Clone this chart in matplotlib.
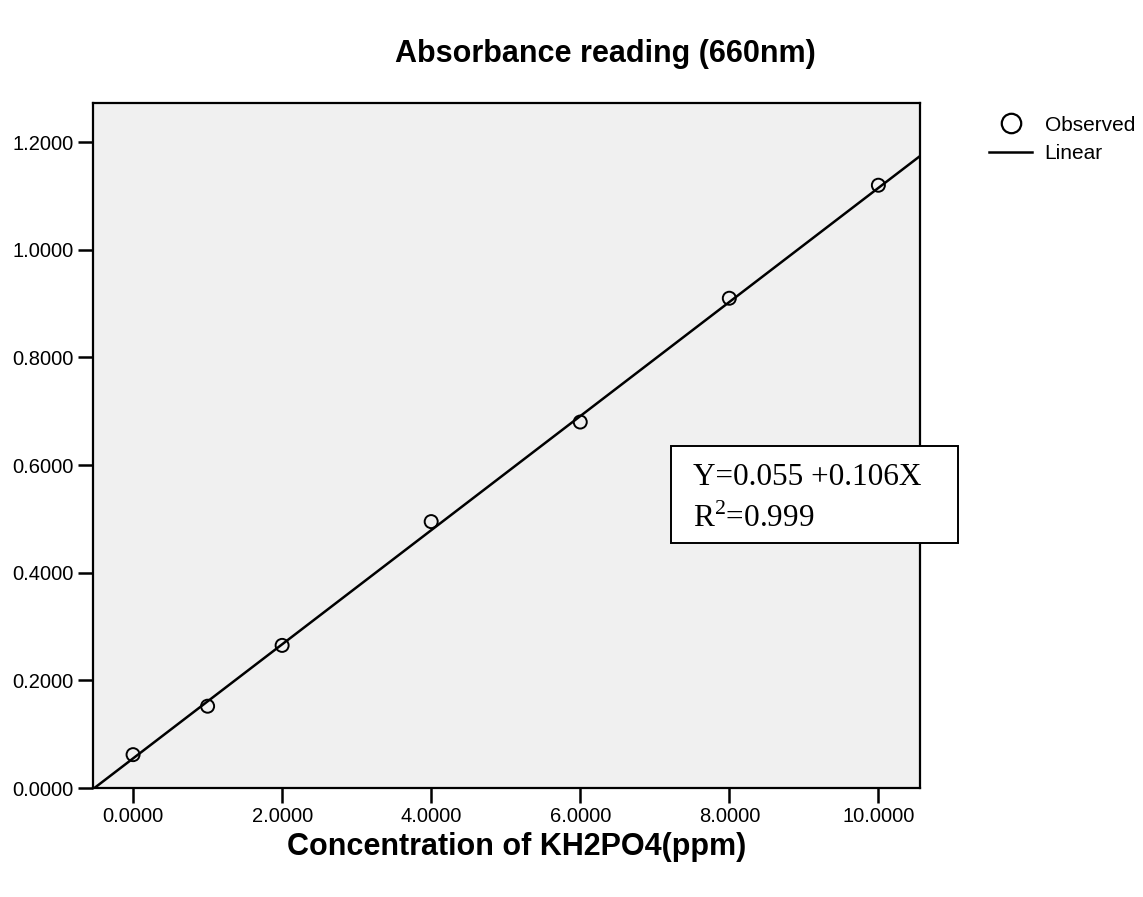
import matplotlib.pyplot as plt
import numpy as np
from matplotlib.lines import Line2D
from matplotlib.patches import Rectangle

plt.rcParams['font.family'] = ['Liberation Sans', 'DejaVu Sans']
plt.rcParams['mathtext.fontset'] = 'custom'
plt.rcParams['mathtext.rm'] = 'Liberation Serif'

# observed points
conc = [0, 1, 2, 4, 6, 8, 10]
absorb = [0.062, 0.152, 0.265, 0.495, 0.680, 0.910, 1.120]

# fitted line
intercept = 0.055
slope = 0.106

xticks = [0, 2, 4, 6, 8, 10]
yticks = [0, 0.2, 0.4, 0.6, 0.8, 1.0, 1.2]

fig = plt.figure(figsize=(11.43, 8.97), dpi=100)
ax = fig.add_axes([0.0814, 0.1215, 0.7236, 0.7635])
ax.set_facecolor('#f0f0f0')

xmin, xmax = -0.537, 10.56
ax.set_xlim(xmin, xmax)
ax.set_ylim(0, 1.2725)

xs = np.array([xmin, xmax])
ax.plot(xs, intercept + slope * xs, color='black', lw=1.8, zorder=2)
ax.scatter(conc, absorb, s=88, facecolors='none', edgecolors='black', linewidths=1.4, zorder=3)

ax.set_xticks(xticks)
ax.set_xticklabels(['%.4f' % v for v in xticks], fontsize=14.5)
ax.set_yticks(yticks)
ax.set_yticklabels(['%.4f' % v for v in yticks], fontsize=14.5)
ax.tick_params(direction='out', length=11, width=1.8, pad=3)
for s in ax.spines.values():
    s.set_linewidth(1.6)

fig.text(0.452, 0.056, 'Concentration of KH2PO4(ppm)', ha='center', va='center',
         fontsize=22, fontweight='bold')
fig.text(0.530, 0.940, 'Absorbance reading (660nm)', ha='center', va='center',
         fontsize=22, fontweight='bold')

# equation box
fig.patches.append(Rectangle((0.587, 0.3946), 0.2511, 0.1081, transform=fig.transFigure,
                             facecolor='white', edgecolor='black', lw=1.4, zorder=5))
fig.text(0.606, 0.468, 'Y=0.055 +0.106X', fontsize=22.5, family='Liberation Serif',
         ha='left', va='center', zorder=6)
fig.text(0.606, 0.4214, 'R$^{2}$=0.999', fontsize=22.5, family='Liberation Serif',
         ha='left', va='center', zorder=6)

handles = [Line2D([], [], ls='none', marker='o', markersize=14, markerfacecolor='none',
                  markeredgecolor='black', markeredgewidth=1.6),
           Line2D([], [], color='black', lw=1.8)]
fig.legend(handles, ['Observed', 'Linear'], loc='upper left', bbox_to_anchor=(0.865, 0.871),
           frameon=False, fontsize=15, handlelength=2.1, handletextpad=0.58,
           labelspacing=0.45, borderpad=0, borderaxespad=0)

fig.savefig('out.png', dpi=100)
